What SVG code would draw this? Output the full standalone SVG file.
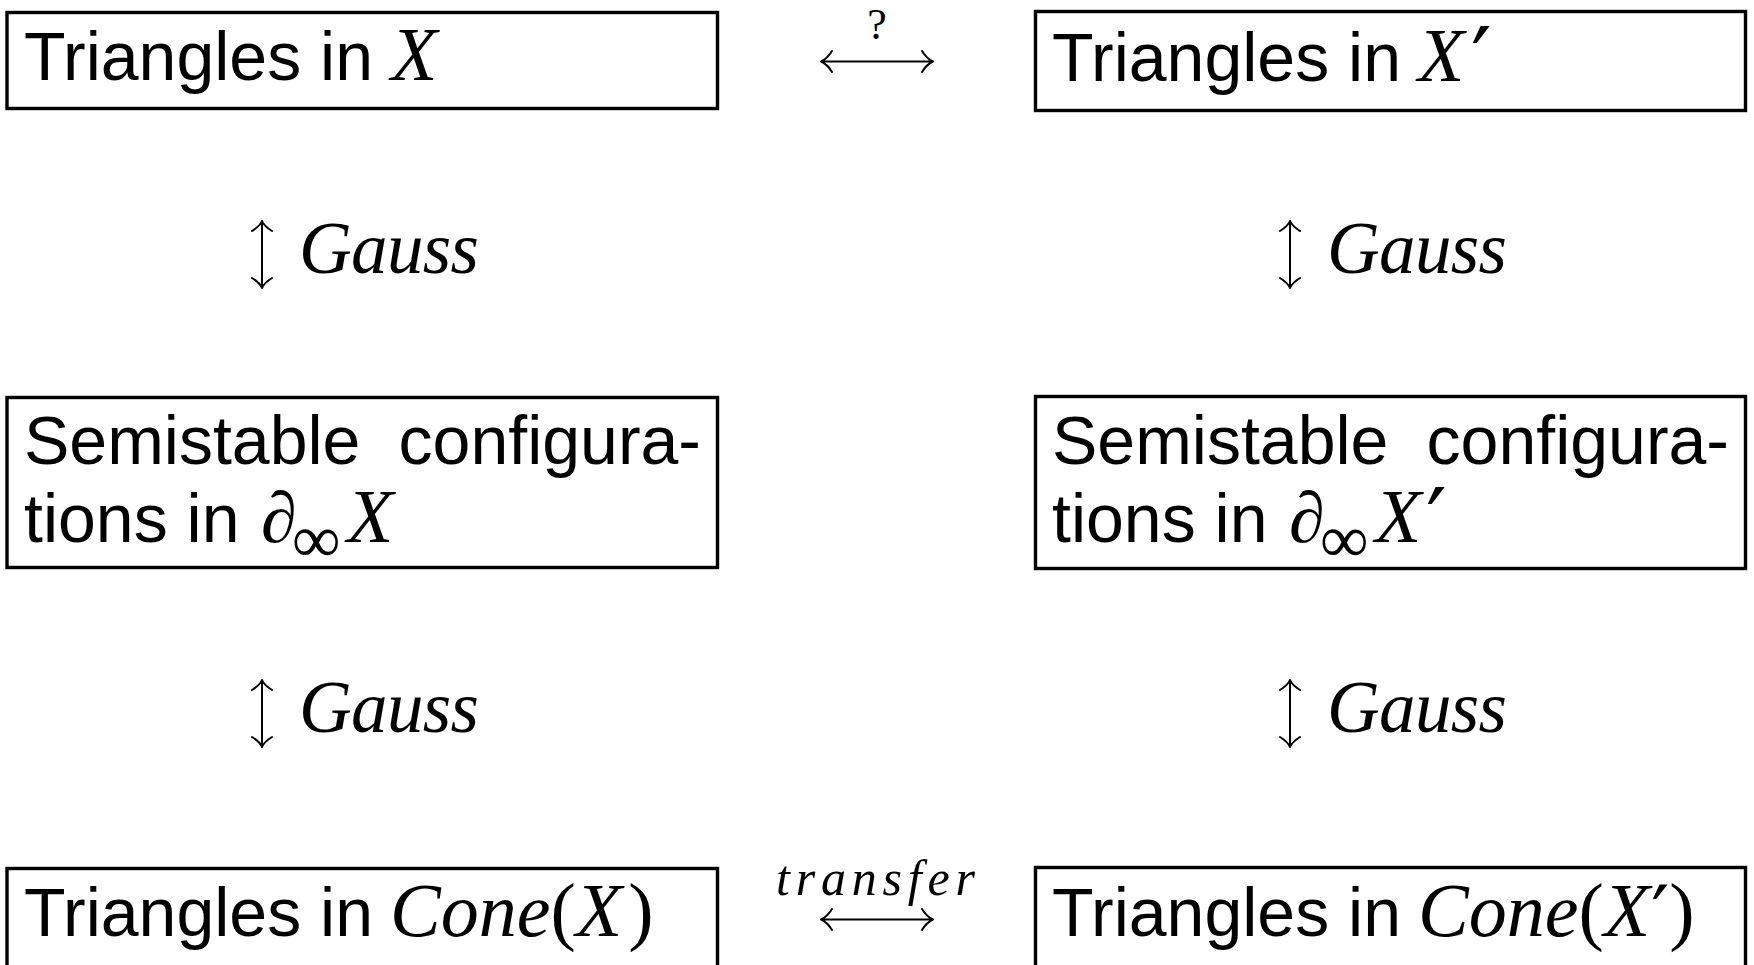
<svg xmlns="http://www.w3.org/2000/svg" width="1754" height="965" viewBox="0 0 1754 965">
<defs>
<style>
.box{fill:none;stroke:#000;stroke-width:3.4}
.t{font-family:"Liberation Sans",Arial,sans-serif;font-size:68px;fill:#000}
.m{font-family:"Liberation Serif","Times New Roman",serif;font-style:italic;fill:#000}
.u{font-family:"Liberation Serif","Times New Roman",serif;font-style:normal;fill:#000}
.p{font-family:"DejaVu Sans",sans-serif;font-style:normal;fill:#000}
.ln{fill:none;stroke:#000;stroke-width:2;stroke-linecap:round;stroke-linejoin:round}
</style>
</defs>
<rect width="1754" height="965" fill="#fff"/>

<g id="node-tri-x">
<rect class="box" x="7" y="12.5" width="710.5" height="96"/>
<text class="t" x="24" y="80">Triangles in</text>
<text class="m" x="391" y="80" font-size="76">X</text>
</g>

<g id="node-tri-xp">
<rect class="box" x="1035.5" y="11.5" width="710" height="99"/>
<text class="t" x="1052" y="81">Triangles in</text>
<text class="m" x="1418" y="81" font-size="76">X</text>
<text class="p" x="1471" y="94" font-size="92">′</text>
</g>

<g id="node-semi-x">
<rect class="box" x="7" y="397.5" width="710.5" height="170"/>
<text class="t" x="24" y="464">Semistable</text>
<text class="t" x="701" y="464" text-anchor="end">configura-</text>
<text class="t" x="24" y="542">tions in</text>
<text class="m" x="261" y="542" font-size="72">∂</text>
<text class="u" x="292" y="562" font-size="68">∞</text>
<text class="m" x="347" y="542" font-size="76">X</text>
</g>

<g id="node-semi-xp">
<rect class="box" x="1035.5" y="396.5" width="710" height="172"/>
<text class="t" x="1052" y="464">Semistable</text>
<text class="t" x="1729" y="464" text-anchor="end">configura-</text>
<text class="t" x="1052" y="542">tions in</text>
<text class="m" x="1289" y="542" font-size="72">∂</text>
<text class="u" x="1320" y="562" font-size="68">∞</text>
<text class="m" x="1375" y="542" font-size="76">X</text>
<text class="p" x="1426" y="555" font-size="92">′</text>
</g>

<g id="node-cone-x">
<rect class="box" x="7" y="868.5" width="710.5" height="200"/>
<text class="t" x="24" y="936">Triangles in</text>
<text class="m" x="390" y="936" font-size="76">Cone<tspan class="u">(</tspan>X<tspan class="u" dx="6">)</tspan></text>
</g>

<g id="node-cone-xp">
<rect class="box" x="1035.5" y="867.5" width="710" height="200"/>
<text class="t" x="1052" y="936">Triangles in</text>
<text class="m" x="1418" y="936" font-size="76">Cone<tspan class="u">(</tspan>X<tspan class="p" font-size="80" dx="1" dy="7">′</tspan><tspan class="u" dy="-7">)</tspan></text>
</g>

<g id="connectors">
<path class="ln" d="M821 61.5 H933 M832 51 Q827 59 821 61.5 Q827 64 832 72 M922 51 Q927 59 933 61.5 Q927 64 922 72"/>
<text class="u" x="877" y="39" font-size="44" text-anchor="middle">?</text>
<path class="ln" d="M821 919.5 H933 M832 909 Q827 917 821 919.5 Q827 922 832 930 M922 909 Q927 917 933 919.5 Q927 922 922 930"/>
<text class="m" x="776" y="895" font-size="50" textLength="199" lengthAdjust="spacing">transfer</text>
<path class="ln" d="M262 221 V288 M252 231 Q260 226 262 221 Q264 226 272 231 M252 278 Q260 283 262 288 Q264 283 272 278"/>
<text class="m" x="299" y="273" font-size="73" textLength="180" lengthAdjust="spacing">Gauss</text>
<path class="ln" d="M262 680 V747 M252 690 Q260 685 262 680 Q264 685 272 690 M252 737 Q260 742 262 747 Q264 742 272 737"/>
<text class="m" x="299" y="732" font-size="73" textLength="180" lengthAdjust="spacing">Gauss</text>
<path class="ln" d="M1290 221 V288 M1280 231 Q1288 226 1290 221 Q1292 226 1300 231 M1280 278 Q1288 283 1290 288 Q1292 283 1300 278"/>
<text class="m" x="1327" y="273" font-size="73" textLength="180" lengthAdjust="spacing">Gauss</text>
<path class="ln" d="M1290 680 V747 M1280 690 Q1288 685 1290 680 Q1292 685 1300 690 M1280 737 Q1288 742 1290 747 Q1292 742 1300 737"/>
<text class="m" x="1327" y="732" font-size="73" textLength="180" lengthAdjust="spacing">Gauss</text>
</g>
</svg>
